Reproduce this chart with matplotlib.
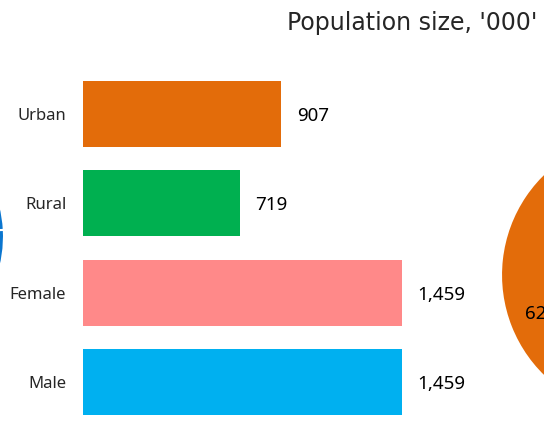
import matplotlib
matplotlib.use('Agg')
import matplotlib.pyplot as plt

### Data
categories = ['Male', 'Female', 'Rural', 'Urban']          # bottom to top
values = [1459, 1459, 719, 907]
bar_colors = ['#00B0F0', '#FF8989', '#00B050', '#E36C0A']
value_labels = ['1,459', '1,459', '719', '907']

right_pie = [62, 38]                                      # partly visible pie on the right
right_pie_colors = ['#E36C0A', '#00B050']
left_pie = [50, 50]                                       # partly visible pie on the left
left_pie_colors = ['#0B76CF', '#0B76CF']

title = "Population size, '000'"

W, H = 544, 433

### Figure
fig = plt.figure(figsize=[W / 100, H / 100], dpi=100, facecolor='white')

# bar chart - value 0 at x=83 px, bar rows every ~89 px
ax = fig.add_axes([83 / W, (H - 426.7) / H, 397 / W, 357.3 / H])
ax.barh(range(len(categories)), values, height=0.74, color=bar_colors)
ax.set_xlim(0, 1815)
ax.set_ylim(-0.5, len(categories) - 0.5)
ax.set_yticks(range(len(categories)))
ax.set_yticklabels(categories, fontsize=12, family='Noto Sans', color='#262626')
ax.tick_params(axis='y', length=0, pad=12)
ax.set_xticks([])
for s in ax.spines.values():
    s.set_visible(False)
for i, v in enumerate(values):
    ax.text(v + 70, i, value_labels[i], va='center_baseline', ha='left',
            fontsize=13.5, family='Noto Sans', color='black')

# pie on the left edge (mostly cut off)
r1 = 126
axl = fig.add_axes([(-122 - r1) / W, (H - 236.5 - r1) / H, 2 * r1 / W, 2 * r1 / H])
axl.pie(left_pie, colors=left_pie_colors, startangle=3,
        wedgeprops=dict(edgecolor='white', linewidth=1.5))
axl.set_xlim(-1, 1)
axl.set_ylim(-1, 1)

# pie on the right edge (mostly cut off)
r2 = 141
axr = fig.add_axes([(642 - r2) / W, (H - 275 - r2) / H, 2 * r2 / W, 2 * r2 / H])
axr.pie(right_pie, colors=right_pie_colors, startangle=90, autopct='%d%%',
        pctdistance=0.75, textprops=dict(fontsize=13.5, family='Noto Sans', color='black'),
        wedgeprops=dict(edgecolor='white', linewidth=1.5))
axr.set_xlim(-1, 1)
axr.set_ylim(-1, 1)

# title
fig.text(287 / W, 1 - 30 / H, title, ha='left', va='baseline',
         fontsize=17, family='DejaVu Sans', color='#262626')

fig.savefig('out.png', dpi=100)
